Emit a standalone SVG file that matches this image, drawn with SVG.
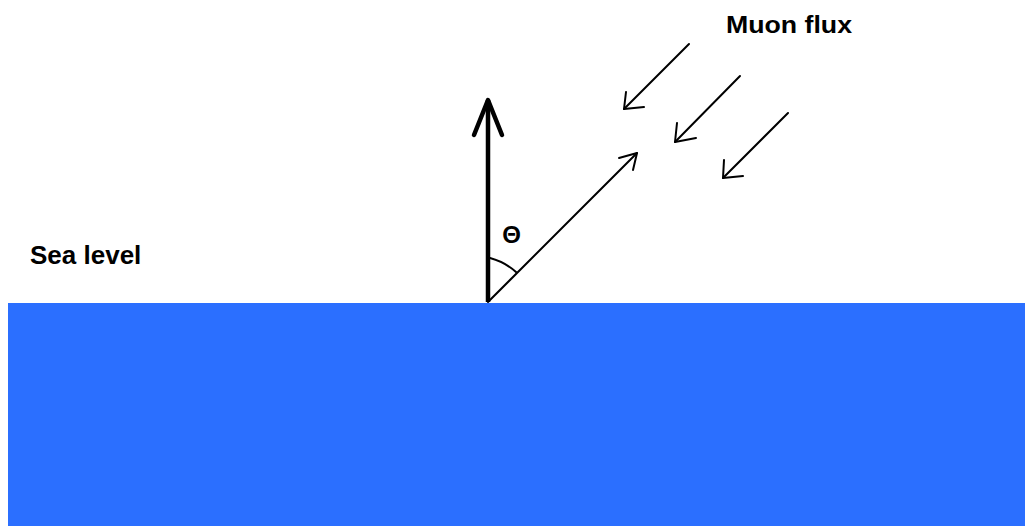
<svg xmlns="http://www.w3.org/2000/svg" width="1025" height="526" viewBox="0 0 1025 526">
<style>
.lbl{font-family:"Liberation Sans",Arial,sans-serif;font-weight:bold;fill:#000}
.thin{stroke:#000;stroke-width:2;fill:none;stroke-linecap:round;stroke-linejoin:round}
</style>
<rect width="1025" height="526" fill="#fff"/>
<g id="sea">
<rect x="8" y="303" width="1017" height="223" fill="#2b6fff"/>
</g>
<g id="labels">
<text class="lbl" x="30" y="264" font-size="26">Sea level</text>
<text class="lbl" x="726" y="33" font-size="24" textLength="126" lengthAdjust="spacingAndGlyphs">Muon flux</text>
<text class="lbl" x="511.5" y="243" font-size="24" text-anchor="middle">Θ</text>
</g>
<g id="connectors">
<g id="zenith">
<line x1="488" y1="302" x2="488" y2="100" stroke="#000" stroke-width="4.5"/>
<polyline points="474,135 488,100 502,135" fill="none" stroke="#000" stroke-width="4.5" stroke-linecap="round" stroke-linejoin="round"/>
</g>
<g id="direction">
<line class="thin" x1="488" y1="302" x2="637" y2="153"/>
<polyline class="thin" points="619,158 637,153 633,170"/>
<path class="thin" d="M490,258 Q505,262 516,272" stroke-width="1"/>
</g>
<g id="muon1">
<line class="thin" x1="689" y1="44" x2="624" y2="109"/>
<polyline class="thin" points="626,92 624,109 644,107"/>
</g>
<g id="muon2">
<line class="thin" x1="740" y1="76" x2="675" y2="142"/>
<polyline class="thin" points="677,123 675,142 696,138"/>
</g>
<g id="muon3">
<line class="thin" x1="788" y1="113" x2="723" y2="178"/>
<polyline class="thin" points="724,160 723,178 743,176"/>
</g>
</g>
</svg>
